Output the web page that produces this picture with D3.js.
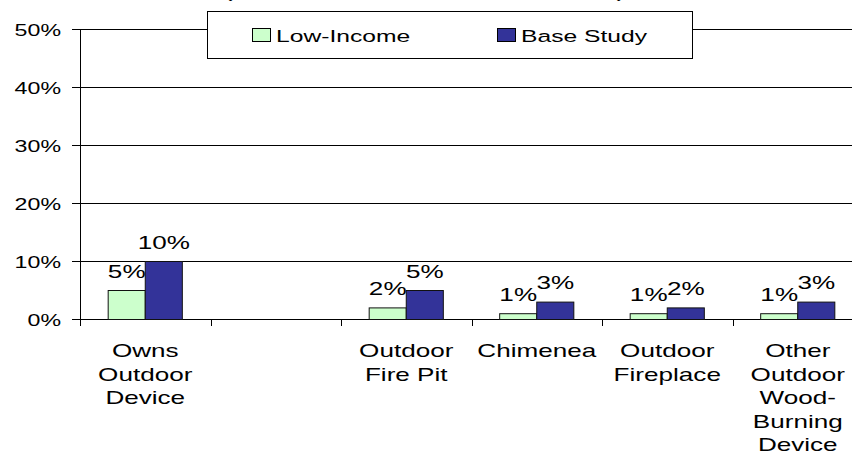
<!DOCTYPE html>
<html>
<head>
<meta charset="utf-8">
<script src="https://cdn.jsdelivr.net/npm/d3@7"></script>
<style>
  html, body { margin: 0; padding: 0; background: #fff; }
  svg { display: block; font-family: "Liberation Sans", Arial, sans-serif; }
</style>
</head>
<body>
<svg id="chart" width="852" height="454"></svg>
<script>
// chart data
const categories = [
  ["Owns", "Outdoor", "Device"],
  [],
  ["Outdoor", "Fire Pit"],
  ["Chimenea"],
  ["Outdoor", "Fireplace"],
  ["Other", "Outdoor", "Wood-", "Burning", "Device"]
];
const seriesNames = ["Low-Income", "Base Study"];
const lowIncome = [0.05, null, 0.02, 0.01, 0.01, 0.01];
const baseStudy = [0.10, null, 0.05, 0.03, 0.02, 0.03];
const yTicks = [0, 0.1, 0.2, 0.3, 0.4, 0.5];
const colors = ["#ccffcc", "#333399"];

const SX = 1.45; // the picture is stretched sideways, text follows

const svg = d3.select("#chart");
const g = svg.append("g");

function label(parent, x, y, str, anchor, size) {
  return parent.append("text")
    .attr("transform", `translate(${x},${y}) scale(${SX},1)`)
    .attr("text-anchor", anchor)
    .attr("font-size", size)
    .attr("fill", "#000")
    .text(str);
}

const y = d3.scaleLinear().domain([0, 0.5]).range([319.5, 29.5]);
const idx = d3.range(categories.length);
const x0 = d3.scaleBand().domain(idx).range([80, 863]).padding(0);
const x1 = d3.scaleBand().domain([0, 1]).range([0, x0.bandwidth()])
  .paddingInner(0).paddingOuter(0.76);

// gridlines + left ticks
g.append("g").selectAll("line")
  .data(yTicks)
  .join("line")
  .attr("x1", 72).attr("x2", 852)
  .attr("y1", d => y(d)).attr("y2", d => y(d))
  .attr("stroke", "#000").attr("stroke-width", 1);

yTicks.forEach(t => label(g, 61, y(t) + 6.5, d3.format(".0%")(t), "end", 16));

// axis line
g.append("line")
  .attr("x1", 80.5).attr("x2", 80.5)
  .attr("y1", 29.5).attr("y2", 326)
  .attr("stroke", "#000");

// category ticks
g.append("g").selectAll("line")
  .data(idx.slice(1))
  .join("line")
  .attr("x1", d => Math.round(x0(d)) + 0.5).attr("x2", d => Math.round(x0(d)) + 0.5)
  .attr("y1", 319.5).attr("y2", 326)
  .attr("stroke", "#000");

// bars
const series = [lowIncome, baseStudy];
series.forEach((vals, s) => {
  const data = idx.filter(i => vals[i] != null);
  g.append("g").selectAll("rect")
    .data(data)
    .join("rect")
    .attr("x", i => x0(i) + x1(s))
    .attr("y", i => y(vals[i]))
    .attr("width", x1.bandwidth())
    .attr("height", i => y(0) - y(vals[i]))
    .attr("fill", colors[s])
    .attr("stroke", "#111")
    .attr("stroke-width", 1);

  data.forEach(i => {
    label(g, x0(i) + x1(s) + x1.bandwidth() / 2, y(vals[i]) - 13,
      d3.format(".0%")(vals[i]), "middle", 18);
  });
});

// category labels
idx.forEach(i => {
  categories[i].forEach((ln, k) => {
    label(g, x0(i) + x0.bandwidth() / 2, 357 + k * 23.5, ln, "middle", 18);
  });
});

// clipped title: only the bracket tails show
label(g, 228, -3, "(", "middle", 18);
label(g, 621, -3, ")", "middle", 18);

// legend
const leg = g.append("g");
leg.append("rect")
  .attr("x", 207.5).attr("y", 11.5).attr("width", 485).attr("height", 47)
  .attr("fill", "#fff").attr("stroke", "#000");
const legX = [252, 497];
seriesNames.forEach((name, s) => {
  leg.append("rect")
    .attr("x", legX[s] + 0.5).attr("y", 28.5)
    .attr("width", 18).attr("height", 13)
    .attr("fill", colors[s]).attr("stroke", "#000");
  label(leg, legX[s] + 24, 42, name, "start", 17);
});
</script>
</body>
</html>
